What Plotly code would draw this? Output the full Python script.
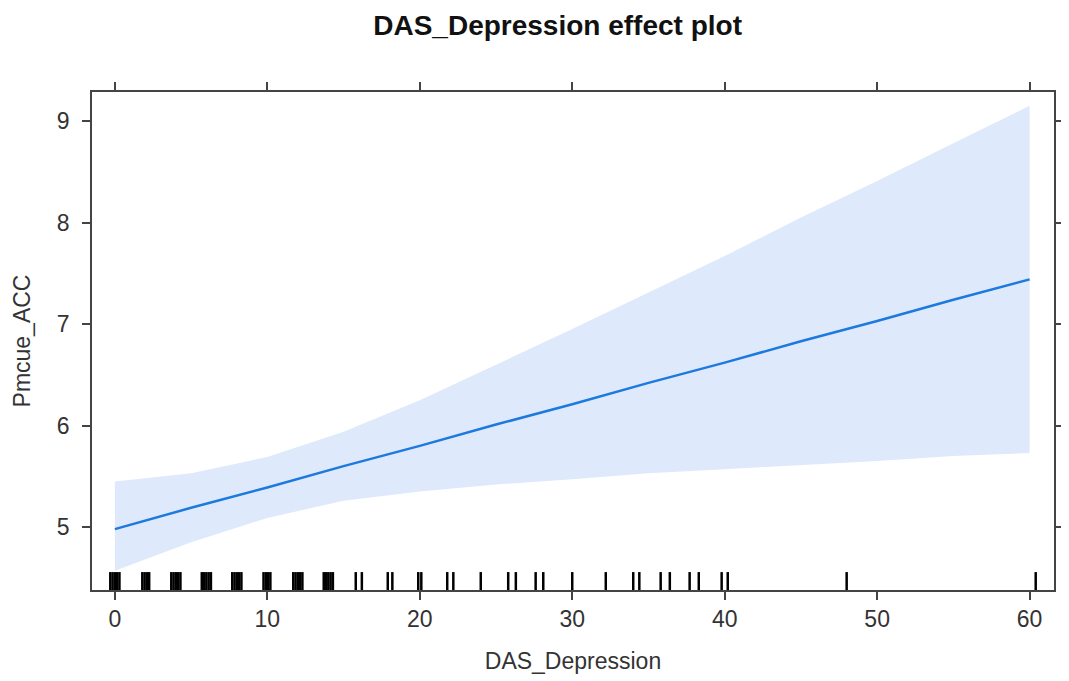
import plotly.graph_objects as go

# Effect estimate and confidence band
x_grid = [0, 5, 10, 15, 20, 25, 30, 35, 40, 45, 50, 55, 60]
fit = [4.98, 5.19, 5.39, 5.60, 5.80, 6.01, 6.21, 6.42, 6.62, 6.83, 7.03, 7.24, 7.44]
upper = [5.45, 5.53, 5.69, 5.94, 6.25, 6.60, 6.95, 7.31, 7.67, 8.05, 8.41, 8.78, 9.15]
lower = [4.57, 4.85, 5.09, 5.26, 5.35, 5.42, 5.47, 5.53, 5.57, 5.61, 5.65, 5.70, 5.73]

# Rug (jittered observed DAS_Depression values)
rug = [-0.3, -0.15, 0.0, 0.15, 0.3,
       1.8, 1.95, 2.1, 2.25,
       3.7, 3.85, 4.0, 4.15, 4.3,
       5.7, 5.85, 6.0, 6.15, 6.3,
       7.7, 7.85, 8.0, 8.15, 8.3,
       9.75, 9.9, 10.05, 10.2,
       11.7, 11.85, 12.0, 12.15, 12.3,
       13.7, 13.85, 14.0, 14.15, 14.3,
       15.8, 16.2, 17.9, 18.2, 19.9, 20.1,
       21.8, 22.2, 24.0, 25.8, 26.3, 27.6, 28.1,
       30.0, 32.2, 34.0, 34.4, 35.8, 36.4, 37.7, 38.3,
       39.8, 40.2, 48.0, 60.4]

title = "DAS_Depression effect plot"
x_title = "DAS_Depression"
y_title = "Pmcue_ACC"
x_ticks = [0, 10, 20, 30, 40, 50, 60]
y_ticks = [5, 6, 7, 8, 9]

FONT = "Liberation Sans, Arial"

fig = go.Figure()
fig.add_trace(go.Scatter(x=x_grid, y=upper, mode="lines", line=dict(width=0),
                         showlegend=False, hoverinfo="skip"))
fig.add_trace(go.Scatter(x=x_grid, y=lower, mode="lines", line=dict(width=0),
                         fill="tonexty", fillcolor="rgb(223,233,252)",
                         showlegend=False, hoverinfo="skip"))
fig.add_trace(go.Scatter(x=x_grid, y=fit, mode="lines",
                         line=dict(color="rgb(28,122,222)", width=2.5),
                         showlegend=False))

for r in rug:
    fig.add_shape(type="line", xref="x", yref="y domain", x0=r, x1=r, y0=0, y1=0.036,
                  line=dict(color="black", width=2.5))

axis_common = dict(showline=True, linecolor="#444", linewidth=1.5, mirror="ticks",
                   ticks="outside", ticklen=8, tickwidth=1.5, tickcolor="#444",
                   showgrid=False, zeroline=False,
                   tickfont=dict(family=FONT, size=23, color="#333"))

fig.update_xaxes(range=[-1.5, 61.6], tickvals=x_ticks,
                 title=dict(text=x_title, font=dict(family=FONT, size=23, color="#333"),
                            standoff=22),
                 **axis_common)
fig.update_yaxes(range=[4.38, 9.286], tickvals=y_ticks, ticklabelstandoff=8,
                 title=dict(text=y_title, font=dict(family=FONT, size=23, color="#333"),
                            standoff=20),
                 **axis_common)

fig.update_layout(
    width=1061, height=673,
    margin=dict(l=84, r=5, t=84, b=91),
    paper_bgcolor="white", plot_bgcolor="white",
    title=dict(text="<b>" + title + "</b>", x=0.518, xanchor="center", y=0.975, yanchor="middle",
               font=dict(family=FONT, size=28, color="#111")),
)

fig.write_html("out.html")
